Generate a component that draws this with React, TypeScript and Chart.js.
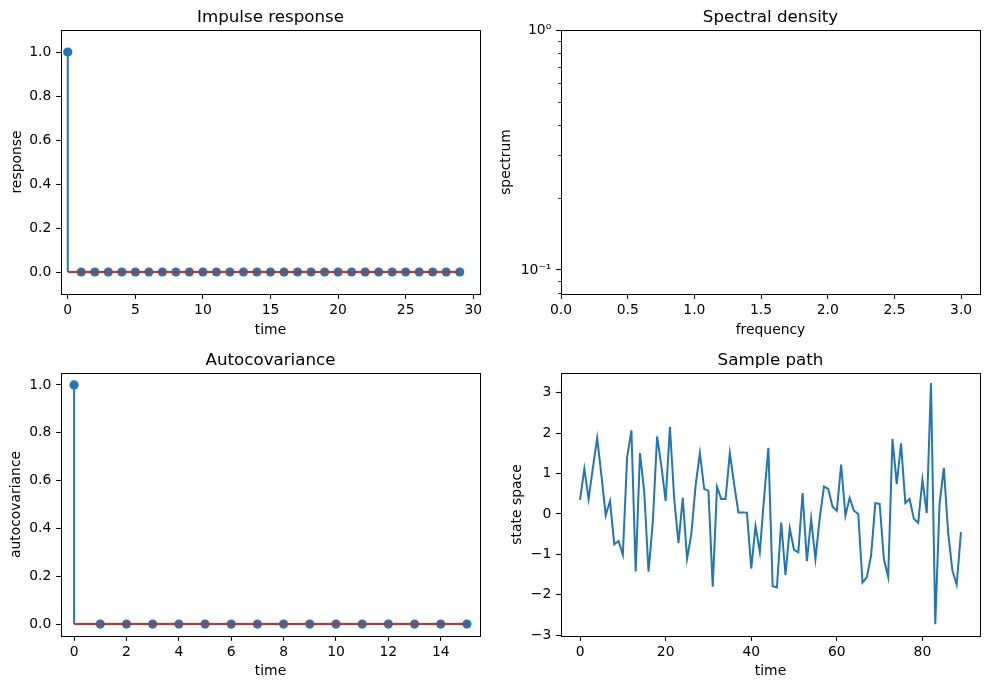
import React, { useEffect, useRef } from 'react';
import { Chart, registerables } from 'chart.js';

Chart.register(...registerables);

// ---------- data ----------
const IMPULSE_VALUES = [1, 0, 0, 0, 0, 0, 0, 0, 0, 0, 0, 0, 0, 0, 0, 0, 0, 0, 0, 0, 0, 0, 0, 0, 0, 0, 0, 0, 0, 0];
const IMPULSE_X_TICKS = [0, 5, 10, 15, 20, 25, 30];
const IMPULSE_Y_TICKS = [0, 0.2, 0.4, 0.6, 0.8, 1.0];

const SPECTRAL_FREQ = [0, 3.14159];
const SPECTRAL_VALUES = [1, 1];
const SPECTRAL_X_TICKS = [0, 0.5, 1.0, 1.5, 2.0, 2.5, 3.0];
const SPECTRAL_Y_MAJOR = [0.1, 1];
const SPECTRAL_Y_MINOR = [0.08, 0.09, 0.2, 0.3, 0.4, 0.5, 0.6, 0.7, 0.8, 0.9];

const AUTOCOV_VALUES = [1, 0, 0, 0, 0, 0, 0, 0, 0, 0, 0, 0, 0, 0, 0, 0];
const AUTOCOV_X_TICKS = [0, 2, 4, 6, 8, 10, 12, 14];
const AUTOCOV_Y_TICKS = [0, 0.2, 0.4, 0.6, 0.8, 1.0];

const SAMPLE_PATH = [
  0.35, 1.12, 0.37, 1.15, 1.88, 0.95, -0.03, 0.32, -0.75, -0.67,
  -1.01, 1.41, 2.07, -1.42, 1.51, 0.55, -1.43, -0.2, 1.92, 1.2,
  0.32, 2.16, 0.37, -0.72, 0.4, -1.11, -0.5, 0.7, 1.51, 0.62,
  0.57, -1.8, 0.67, 0.37, 0.37, 1.51, 0.74, 0.04, 0.04, 0.03,
  -1.35, -0.3, -0.94, 0.4, 1.64, -1.79, -1.82, -0.21, -1.51, -0.36,
  -0.89, -0.95, 0.52, -1.17, -0.12, -1.12, -0.1, 0.68, 0.62, 0.18,
  0.08, 1.22, -0.04, 0.4, 0.08, 0.0, -1.7, -1.57, -1.03, 0.27,
  0.25, -1.12, -1.56, 1.86, 0.74, 1.75, 0.27, 0.37, -0.12, -0.22,
  0.85, 0.02, 3.24, -2.73, 0.25, 1.14, -0.45, -1.4, -1.75, -0.45,
];
const SAMPLE_X_TICKS = [0, 20, 40, 60, 80];
const SAMPLE_Y_TICKS = [-3, -2, -1, 0, 1, 2, 3];

// ---------- style ----------
const FONT = "'DejaVu Sans', 'Liberation Sans', sans-serif";
const BLUE = '#1f77b4';
const RED = '#d62728';
const TICK_FONT = { family: FONT, size: 13.9, lineHeight: 1.2 };
const LABEL_FONT = { family: FONT, size: 13.9, lineHeight: 1.2 };

const fmt1 = (v: number) => Number(v).toFixed(1);
const fmtInt = (v: number) => (v < 0 ? '\u2212' + Math.abs(v) : String(v));
const fmtLog = (v: number) => (Math.abs(v - 1) < 1e-9 ? '10\u2070' : Math.abs(v - 0.1) < 1e-9 ? '10\u207B\u00B9' : '');

const framePlugin = {
  id: 'frame',
  afterDatasetsDraw(chart: any) {
    const { ctx, chartArea: a } = chart;
    ctx.save();
    ctx.strokeStyle = '#000';
    ctx.lineWidth = 1;
    const l = Math.floor(a.left) + 0.5;
    const t = Math.floor(a.top) + 0.5;
    const r = Math.floor(a.right) + 0.5;
    const b = Math.floor(a.bottom) + 0.5;
    ctx.strokeRect(l, t, r - l, b - t);
    ctx.restore();
  },
};

function titlePlugin(text: string) {
  return {
    id: 'subTitle',
    afterDraw(chart: any) {
      const { ctx, chartArea: a } = chart;
      ctx.save();
      ctx.font = `16.7px ${FONT}`;
      ctx.fillStyle = '#000';
      ctx.textAlign = 'center';
      ctx.textBaseline = 'alphabetic';
      ctx.fillText(text, (a.left + a.right) / 2, a.top - 8.3);
      ctx.restore();
    },
  };
}

const minorTickPlugin = {
  id: 'minorTicks',
  afterDraw(chart: any) {
    const { ctx } = chart;
    const s = chart.scales.y;
    ctx.save();
    ctx.strokeStyle = '#000';
    ctx.lineWidth = 0.85;
    for (const v of SPECTRAL_Y_MINOR) {
      const y = Math.round(s.getPixelForValue(v)) + 0.5;
      ctx.beginPath();
      ctx.moveTo(s.right - 2.8, y);
      ctx.lineTo(s.right, y);
      ctx.stroke();
    }
    ctx.restore();
  },
};

function xScale(o: any) {
  return {
    type: o.type || 'linear',
    position: 'bottom',
    min: o.min,
    max: o.max,
    afterBuildTicks: (s: any) => {
      s.ticks = o.ticks.map((v: number) => ({ value: v }));
    },
    afterFit: (s: any) => {
      s.height = o.height;
    },
    grid: {
      display: true,
      drawOnChartArea: false,
      drawTicks: true,
      tickLength: 4.86,
      tickWidth: 1.1,
      tickColor: '#000',
      color: '#000',
    },
    border: { display: false },
    ticks: {
      padding: 3,
      color: '#000',
      font: TICK_FONT,
      maxRotation: 0,
      minRotation: 0,
      autoSkip: false,
      callback: (v: any) => o.fmt(v),
    },
    title: {
      display: true,
      text: o.title,
      color: '#000',
      font: LABEL_FONT,
      padding: { top: 0, bottom: o.titlePad },
    },
  };
}

function yScale(o: any) {
  return {
    type: o.type || 'linear',
    position: 'left',
    min: o.min,
    max: o.max,
    afterBuildTicks: (s: any) => {
      s.ticks = o.ticks.map((v: number) => ({ value: v }));
    },
    afterFit: (s: any) => {
      s.width = o.width;
    },
    grid: {
      display: true,
      drawOnChartArea: false,
      drawTicks: true,
      tickLength: 4.86,
      tickWidth: 1.1,
      tickColor: '#000',
      color: '#000',
    },
    border: { display: false },
    ticks: {
      padding: 4.86,
      color: '#000',
      font: TICK_FONT,
      autoSkip: false,
      callback: (v: any) => o.fmt(v),
    },
    title: {
      display: true,
      text: o.title,
      color: '#000',
      font: LABEL_FONT,
      padding: { top: o.titlePad, bottom: 0 },
    },
  };
}

function baseOptions(padding: any, scales: any) {
  return {
    responsive: false,
    animation: false,
    devicePixelRatio: 1,
    events: [],
    layout: { padding },
    plugins: { legend: { display: false }, tooltip: { enabled: false }, title: { display: false } },
    scales,
  };
}

function stemDatasets(values: number[]) {
  const stems: any[] = [];
  values.forEach((v, i) => {
    stems.push({ x: i, y: 0 }, { x: i, y: v }, { x: i, y: null });
  });
  return [
    {
      data: [
        { x: 0, y: 0 },
        { x: values.length - 1, y: 0 },
      ],
      showLine: true,
      borderColor: RED,
      borderWidth: 2,
      pointRadius: 0,
    },
    {
      data: values.map((v, i) => ({ x: i, y: v })),
      showLine: false,
      pointRadius: 4.6,
      pointBorderWidth: 0,
      pointBackgroundColor: BLUE,
      backgroundColor: BLUE,
    },
    {
      data: stems,
      showLine: true,
      spanGaps: false,
      borderColor: BLUE,
      borderWidth: 2,
      pointRadius: 0,
    },
  ];
}

function impulseConfig() {
  return {
    type: 'scatter',
    data: { datasets: stemDatasets(IMPULSE_VALUES) },
    options: baseOptions(
      { left: 0, top: 30, right: 15, bottom: 0 },
      {
        x: xScale({ min: -0.5, max: 30.5, ticks: IMPULSE_X_TICKS, fmt: fmtInt, title: 'time', height: 51, titlePad: 6.66 }),
        y: yScale({ min: -0.1, max: 1.1, ticks: IMPULSE_Y_TICKS, fmt: fmt1, title: 'response', width: 61, titlePad: 8.66 }),
      }
    ),
    plugins: [framePlugin, titlePlugin('Impulse response')],
  };
}

function spectralConfig() {
  return {
    type: 'scatter',
    data: {
      datasets: [
        {
          data: SPECTRAL_FREQ.map((f, i) => ({ x: f, y: SPECTRAL_VALUES[i] })),
          showLine: true,
          borderColor: BLUE,
          borderWidth: 2,
          pointRadius: 0,
        },
      ],
    },
    options: baseOptions(
      { left: 0, top: 30, right: 9, bottom: 0 },
      {
        x: xScale({ min: 0, max: Math.PI, ticks: SPECTRAL_X_TICKS, fmt: fmt1, title: 'frequency', height: 51, titlePad: 6.66 }),
        y: yScale({ type: 'logarithmic', min: 0.0794, max: 1, ticks: SPECTRAL_Y_MAJOR, fmt: fmtLog, title: 'spectrum', width: 66, titlePad: 2.66 }),
      }
    ),
    plugins: [framePlugin, titlePlugin('Spectral density'), minorTickPlugin],
  };
}

function autocovConfig() {
  return {
    type: 'scatter',
    data: { datasets: stemDatasets(AUTOCOV_VALUES) },
    options: baseOptions(
      { left: 0, top: 28, right: 15, bottom: 0 },
      {
        x: xScale({ min: -0.5, max: 15.5, ticks: AUTOCOV_X_TICKS, fmt: fmtInt, title: 'time', height: 54, titlePad: 9.96 }),
        y: yScale({ min: -0.05, max: 1.05, ticks: AUTOCOV_Y_TICKS, fmt: fmt1, title: 'autocovariance', width: 61, titlePad: 8.36 }),
      }
    ),
    plugins: [framePlugin, titlePlugin('Autocovariance')],
  };
}

function sampleConfig() {
  return {
    type: 'scatter',
    data: {
      datasets: [
        {
          data: SAMPLE_PATH.map((v, i) => ({ x: i, y: v })),
          showLine: true,
          borderColor: BLUE,
          borderWidth: 2,
          pointRadius: 0,
          tension: 0,
        },
      ],
    },
    options: baseOptions(
      { left: 0, top: 28, right: 9, bottom: 0 },
      {
        x: xScale({ min: -4.45, max: 93.45, ticks: SAMPLE_X_TICKS, fmt: fmtInt, title: 'time', height: 54, titlePad: 9.96 }),
        y: yScale({ min: -3.02, max: 3.49, ticks: SAMPLE_Y_TICKS, fmt: fmtInt, title: 'state space', width: 66, titlePad: 14.36 }),
      }
    ),
    plugins: [framePlugin, titlePlugin('Sample path')],
  };
}

function Panel(props: { left: number; top: number; width: number; height: number; build: () => any }) {
  const ref = useRef<HTMLCanvasElement>(null);
  useEffect(() => {
    if (!ref.current) return;
    const chart = new Chart(ref.current, props.build());
    return () => chart.destroy();
  }, []);
  return (
    <canvas
      ref={ref}
      width={props.width}
      height={props.height}
      style={{ position: 'absolute', left: props.left, top: props.top, width: props.width, height: props.height }}
    />
  );
}

export default function App() {
  return (
    <div style={{ position: 'absolute', left: 0, top: 0, width: 989, height: 690, background: '#fff', overflow: 'hidden' }}>
      <Panel left={0} top={0} width={495} height={345} build={impulseConfig} />
      <Panel left={495} top={0} width={494} height={345} build={spectralConfig} />
      <Panel left={0} top={345} width={495} height={345} build={autocovConfig} />
      <Panel left={495} top={345} width={494} height={345} build={sampleConfig} />
    </div>
  );
}
